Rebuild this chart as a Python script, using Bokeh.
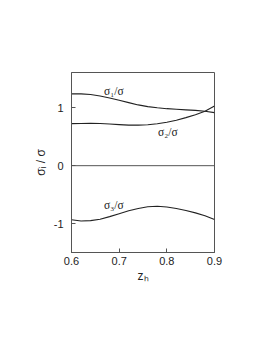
from bokeh.plotting import figure
from bokeh.models import Span, FixedTicker, Label
from bokeh.embed import file_html
from bokeh.resources import INLINE

z = [0.60, 0.62, 0.64, 0.66, 0.68, 0.70, 0.72, 0.74, 0.76, 0.78, 0.80, 0.82, 0.84, 0.86, 0.88, 0.90]
s1 = [1.24, 1.24, 1.23, 1.205, 1.17, 1.13, 1.09, 1.05, 1.02, 1.0, 0.985, 0.975, 0.965, 0.955, 0.94, 0.917]
s2 = [0.727, 0.73, 0.733, 0.73, 0.72, 0.71, 0.70, 0.70, 0.708, 0.725, 0.75, 0.785, 0.83, 0.88, 0.94, 1.03]
s3 = [-0.934, -0.955, -0.95, -0.925, -0.88, -0.83, -0.78, -0.74, -0.71, -0.70, -0.713, -0.74, -0.775, -0.815, -0.865, -0.93]
xticks = [0.6, 0.7, 0.8, 0.9]
yticks = [-1, 0, 1]

p = figure(width=258, height=338, output_backend="svg", toolbar_location=None,
           x_range=(0.6, 0.9), y_range=(-1.5, 1.61),
           min_border_left=71, min_border_right=44, min_border_top=72, min_border_bottom=86)
p.grid.visible = False
p.outline_line_color = "#555555"
p.background_fill_color = "white"
p.border_fill_color = "white"

for ax in (p.xaxis[0], p.yaxis[0]):
    ax.major_tick_in = 4
    ax.major_tick_out = 0
    ax.minor_tick_line_color = None
    ax.axis_line_color = "#555555"
    ax.major_tick_line_color = "#555555"
    ax.major_label_text_font = "Liberation Sans"
    ax.major_label_text_font_size = "11px"
    ax.major_label_text_color = "#222222"
    ax.axis_label_text_font = "Liberation Sans"
    ax.axis_label_text_font_style = "normal"
    ax.axis_label_text_font_size = "12px"
    ax.axis_label_text_color = "#222222"

p.xaxis.ticker = FixedTicker(ticks=xticks)
p.yaxis.ticker = FixedTicker(ticks=yticks)
p.xaxis.major_label_overrides = {0.6: "0.6", 0.7: "0.7", 0.8: "0.8", 0.9: "0.9"}
p.yaxis.major_label_overrides = {-1: "-1", 0: "0", 1: "1"}
p.xaxis.axis_label = "zₕ"
p.yaxis.axis_label = "σᵢ / σ"
p.xaxis.major_label_standoff = 4
p.yaxis.major_label_standoff = 8
p.yaxis.axis_label_standoff = 3
p.xaxis.axis_label_standoff = 1

p.add_layout(Span(location=0, dimension="width", line_color="#555555", line_width=1))

for s in (s1, s2, s3):
    p.line(z, s, line_color="#222222", line_width=1.1)

for txt, x, y in (("σ₁/σ", 0.689, 1.29), ("σ₂/σ", 0.802, 0.58), ("σ₃/σ", 0.689, -0.687)):
    p.add_layout(Label(x=x, y=y, text=txt, text_font="Liberation Serif", text_font_size="11.5px",
                       text_align="center", text_baseline="middle", text_color="#222222"))

open("out.html", "w").write(file_html(p, INLINE))
